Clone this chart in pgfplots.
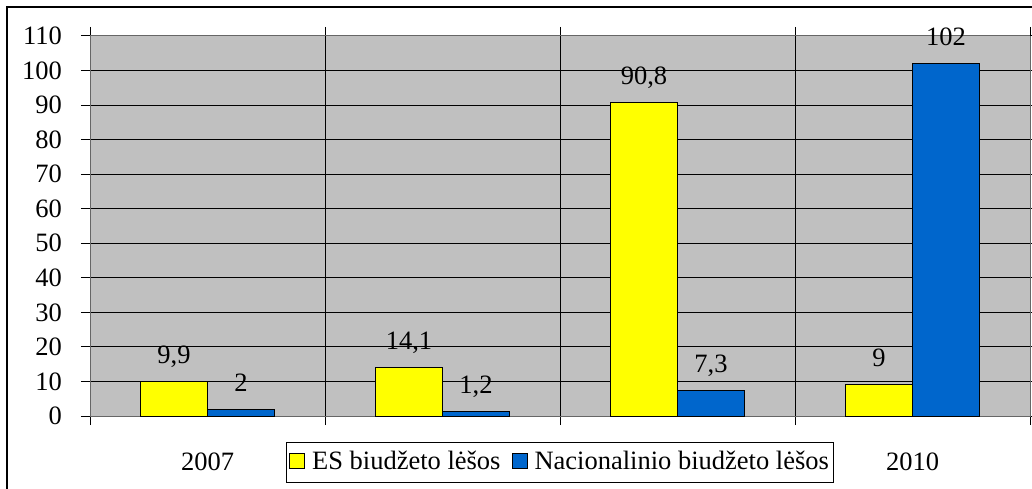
\documentclass[border=0pt]{standalone}
\usepackage{pgfplots}
\pgfplotsset{compat=1.18}
\usepackage{pgfplotstable}
\usepackage{fontspec}
\setmainfont{Liberation Serif}
\definecolor{plotgray}{HTML}{C0C0C0}
\definecolor{esyellow}{HTML}{FFFF00}
\definecolor{natblue}{HTML}{0066CC}

\pgfplotstableread{
x y label
0.5 9.9 9,9
1.5 14.1 14,1
2.5 90.8 90,8
3.5 9 9
}\es
\pgfplotstableread{
x y label
0.5 2 2
1.5 1.2 1,2
2.5 7.3 7,3
3.5 102 102
}\nat

\begin{document}
\fontsize{26.5}{30}\selectfont
\begin{tikzpicture}
\path[use as bounding box] (0,0) rectangle (1032pt,488pt);
\draw[line width=1.5pt] (7pt,-20pt) rectangle (1050pt,481pt);
\begin{axis}[
  at={(90pt,72pt)}, anchor=south west,
  scale only axis, width=940pt, height=380pt,
  xmin=0, xmax=4, ymin=0, ymax=110,
  ytick={0,10,...,100},
  extra y ticks={110}, extra y tick style={ymajorgrids=false},
  xtick={0,1,2,3,4}, xticklabels={},
  extra x ticks={0.5,3.5}, extra x tick labels={2007,2010},
  extra x tick style={major tick length=0pt, xmajorgrids=false,
     tick label style={yshift=-28pt}},
  xmajorgrids, ymajorgrids,
  major grid style={black, line width=1pt},
  axis background/.style={fill=plotgray},
  axis line style={draw=gray!80!black, line width=1pt},
  tick style={black, line width=1pt},
  tick align=outside, major tick length=9pt,
  yticklabel style={xshift=-10pt},
  /pgf/number format/assume math mode=true,
  ybar=0pt, bar width=67pt,
  nodes near coords, point meta=explicit symbolic,
  every node near coord/.append style={anchor=base, yshift=18pt, black, inner sep=0pt},
  legend style={at={(0.5,-0.1224)}, anchor=center, draw=black, line width=1pt,
     legend columns=2, fill=white, inner xsep=3pt, inner ysep=7pt,
     /tikz/every odd column/.append style={column sep=5pt},
     /tikz/every even column/.append style={column sep=9pt}},
  legend image code/.code={\draw[#1, line width=1pt] (0pt,-6pt) rectangle (15pt,9pt);},
]
\addplot[fill=esyellow, draw=black, line width=1pt] table[x=x, y=y, meta=label] {\es};
\addplot[fill=natblue, draw=black, line width=1pt] table[x=x, y=y, meta=label] {\nat};
\legend{ES biudžeto lėšos, Nacionalinio biudžeto lėšos}
\end{axis}
\end{tikzpicture}
\end{document}
